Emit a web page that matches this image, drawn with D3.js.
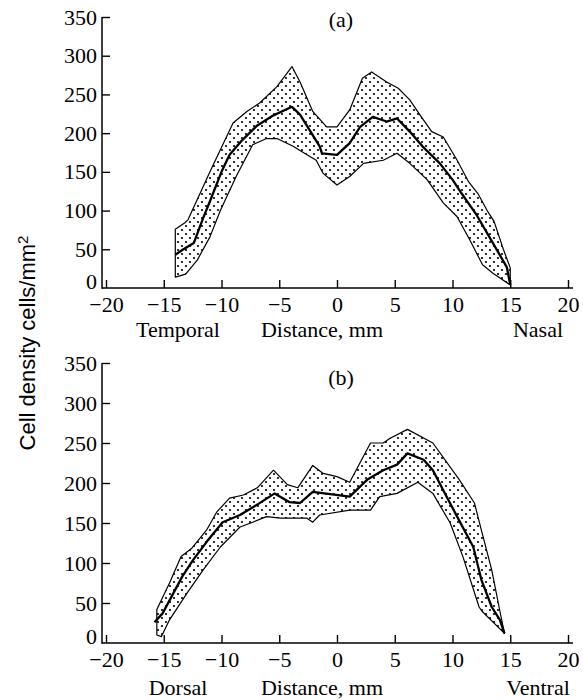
<!DOCTYPE html>
<html>
<head>
<meta charset="utf-8">
<script src="https://cdn.jsdelivr.net/npm/d3@7"></script>
<style>
  body { margin: 0; background: #fff; }
  svg text { font-family: "Liberation Serif", "Times New Roman", serif; }
</style>
</head>
<body>
<script>
// data: [distance mm, cells/mm2]
const xTicks = [-20, -15, -10, -5, 0, 5, 10, 15, 20];
const yTicks = [0, 50, 100, 150, 200, 250, 300, 350];

const aUpper = [[-14.0, 76], [-13.2, 84], [-12.9, 88], [-11.0, 150], [-9.0, 213], [-7.8, 228], [-6.7, 239],
  [-5.2, 260], [-3.9, 286], [-3.2, 266], [-2.1, 228], [-0.9, 208], [0, 208], [1.1, 230], [2.2, 271],
  [3.0, 279], [4.3, 266], [5.3, 258], [6.3, 243], [7.3, 221], [8.2, 202], [9.2, 195], [10.4, 165],
  [11.4, 137], [12.2, 122], [13.0, 100], [13.6, 86], [14.4, 50], [15.0, 26], [15.0, 4]];
const aMean = [[-14.0, 43], [-13.4, 49], [-12.4, 58], [-11.6, 90], [-11.0, 112], [-10.0, 150], [-9.3, 172],
  [-8.2, 191], [-6.9, 210], [-5.5, 223], [-3.9, 234], [-3.2, 224], [-1.5, 183], [-1.3, 174], [0, 172],
  [1.1, 187], [2.0, 208], [3.1, 221], [4.3, 215], [5.2, 219], [6.3, 202], [7.4, 183], [8.9, 161],
  [10.0, 140], [10.7, 124], [12.1, 94], [13.5, 58], [14.7, 27], [15.0, 4]];
const aLower = [[-14.0, 14], [-13.1, 18], [-12.1, 36], [-11.0, 66], [-10.1, 100], [-8.7, 145], [-7.3, 185],
  [-6.1, 193], [-5.2, 193], [-3.8, 183], [-2.6, 172], [-1.8, 165], [-1.2, 148], [0, 133], [1.1, 144],
  [2.3, 161], [4.0, 165], [5.2, 174], [6.3, 161], [7.8, 140], [9.2, 110], [10.4, 92], [11.5, 62],
  [12.6, 30], [13.5, 19], [15.0, 4]];

const bUpper = [[-15.6, 10], [-15.6, 42], [-14.5, 75], [-13.5, 108], [-12.6, 118], [-11.3, 141], [-10.4, 164],
  [-9.3, 181], [-8.1, 185], [-6.9, 194], [-5.5, 216], [-4.3, 198], [-3.4, 194], [-2.1, 222], [-1.2, 212],
  [0, 208], [1.1, 201], [2.9, 250], [4.0, 250], [4.6, 256], [6.1, 267], [8.3, 250], [10.6, 204],
  [11.9, 175], [12.5, 141], [13.4, 91], [14.1, 40], [14.5, 12]];
const bMean = [[-15.8, 26], [-15.1, 37], [-13.4, 83], [-12.5, 103], [-11.2, 128], [-9.9, 151], [-8.4, 160],
  [-6.9, 173], [-5.4, 187], [-4.1, 176], [-3.2, 175], [-2.1, 189], [1.1, 183], [2.6, 204], [4.0, 216],
  [5.2, 223], [6.1, 237], [7.5, 229], [8.3, 216], [9.2, 191], [10.4, 158], [11.8, 120], [12.5, 79],
  [13.4, 45], [14.1, 29], [14.5, 12]];
const bLower = [[-15.2, 8], [-14.5, 29], [-13.0, 62], [-11.6, 91], [-10.1, 120], [-8.4, 145], [-7.3, 151],
  [-6.1, 158], [-4.9, 156], [-2.6, 156], [-2.1, 151], [-1.5, 160], [1.1, 166], [2.9, 166], [3.7, 183],
  [5.2, 187], [7.0, 201], [8.3, 187], [9.8, 150], [10.9, 108], [12.3, 45], [12.6, 39], [14.5, 12]];

const W = 583, H = 700;
const svg = d3.select('body').append('svg')
  .attr('width', W)
  .attr('height', H);

// stipple fill
const pat = svg.append('defs').append('pattern')
  .attr('id', 'dots')
  .attr('patternUnits', 'userSpaceOnUse')
  .attr('width', 8)
  .attr('height', 8);
pat.append('circle').attr('cx', 2).attr('cy', 2).attr('r', 1.1).attr('fill', '#000');
pat.append('circle').attr('cx', 6).attr('cy', 6).attr('r', 1.1).attr('fill', '#000');

const x = d3.scaleLinear().domain([-20, 20]).range([106, 568]);

function panel(upper, mean, lower, top, bottom, tag, tagY, left, right, labelY) {
  const y = d3.scaleLinear().domain([0, 350]).range([bottom, top]);
  const g = svg.append('g');
  const line = d3.line().x(d => x(d[0])).y(d => y(d[1]));

  g.append('path')
    .attr('d', line(upper.concat(lower.slice().reverse())) + 'Z')
    .attr('fill', 'url(#dots)')
    .attr('stroke', '#000')
    .attr('stroke-width', 1.2)
    .attr('stroke-linejoin', 'round');

  g.append('path')
    .attr('d', line(mean))
    .attr('fill', 'none')
    .attr('stroke', '#000')
    .attr('stroke-width', 2.3)
    .attr('stroke-linejoin', 'round');

  const ya = g.append('g')
    .attr('transform', 'translate(102,0)')
    .call(d3.axisLeft(y).tickValues(yTicks).tickSize(-8).tickPadding(5).tickFormat(d3.format('d')));
  const xa = g.append('g')
    .attr('transform', 'translate(0,' + bottom + ')')
    .call(d3.axisBottom(x).tickValues(xTicks).tickSize(-8).tickPadding(8).tickFormat(d3.format('d')));
  [ya, xa].forEach(a => {
    a.select('.domain').remove();
    a.selectAll('line').attr('stroke', '#000').attr('stroke-width', 1.4);
    a.selectAll('text').attr('fill', '#000').style('font-size', '22px');
  });
  const zero = ya.selectAll('.tick').filter(d => d === 0);
  zero.select('line').remove();
  zero.select('text').attr('dy', '0em');

  g.append('line').attr('x1', 102).attr('x2', 102).attr('y1', top).attr('y2', bottom + 0.7)
    .attr('stroke', '#000').attr('stroke-width', 1.5);
  g.append('line').attr('x1', 102).attr('x2', 573).attr('y1', bottom).attr('y2', bottom)
    .attr('stroke', '#000').attr('stroke-width', 1.5);

  g.append('text').attr('x', x(0) + 4).attr('y', tagY).attr('text-anchor', 'middle')
    .style('font-size', '22px').text(tag);

  g.append('text').attr('x', 178).attr('y', labelY).attr('text-anchor', 'middle')
    .style('font-size', '22px').text(left);
  g.append('text').attr('x', 322).attr('y', labelY).attr('text-anchor', 'middle')
    .style('font-size', '22px').text('Distance, mm');
  g.append('text').attr('x', 538).attr('y', labelY).attr('text-anchor', 'middle')
    .style('font-size', '22px').text(right);
}

panel(aUpper, aMean, aLower, 17, 288, '(a)', 27, 'Temporal', 'Nasal', 337);
panel(bUpper, bMean, bLower, 363, 643, '(b)', 385, 'Dorsal', 'Ventral', 695);

const yl = svg.append('text')
  .attr('transform', 'translate(35,343) rotate(-90)')
  .attr('text-anchor', 'middle')
  .style('font-family', '"Liberation Sans", Arial, sans-serif')
  .style('font-size', '22px');
yl.append('tspan').text('Cell density cells/mm');
yl.append('tspan').attr('dy', '-0.45em').style('font-size', '15px').text('2');
</script>
</body>
</html>
